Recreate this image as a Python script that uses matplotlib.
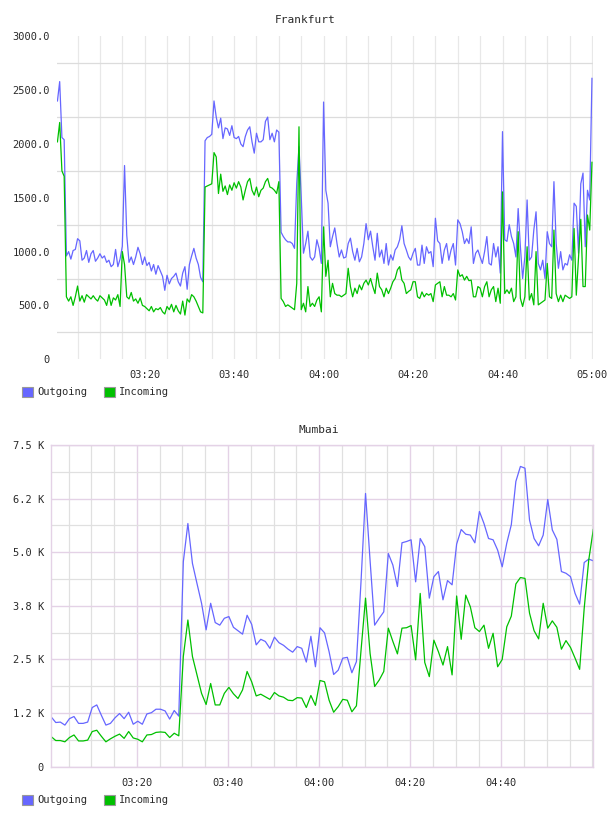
import numpy as np
import matplotlib
matplotlib.use("Agg")
import matplotlib.pyplot as plt
from matplotlib.patches import Patch
from matplotlib.ticker import MultipleLocator, FixedLocator, FuncFormatter

# time axis: minutes after 03:00
fra_start, fra_step = 0.5, 0.5
mum_start, mum_step = 1.2, 1.0

# Frankfurt (30 s samples)
fra_out = [
    2400, 2580, 2060, 2040, 960, 1000, 930, 1010, 1020, 1120,
    1100, 920, 940, 1010, 900, 980, 1010, 910, 940, 980,
    940, 960, 900, 920, 860, 880, 1020, 860, 930, 1050,
    1800, 1150, 900, 950, 880, 950, 1040, 980, 880, 950,
    870, 900, 820, 880, 790, 870, 820, 770, 640, 780,
    700, 750, 770, 800, 720, 680, 800, 860, 650, 880,
    960, 1030, 940, 880, 760, 720, 2030, 2060, 2070, 2090,
    2400, 2250, 2150, 2240, 2050, 2150, 2140, 2080, 2170, 2060,
    2050, 2070, 2000, 1975, 2070, 2130, 2160, 2020, 1915, 2100,
    2020, 2020, 2040, 2210, 2250, 2040, 2100, 2020, 2130, 2110,
    1180, 1140, 1110, 1090, 1090, 1075, 1030, 1635, 1975, 1510,
    985, 1075, 1190, 950, 920, 950, 1110, 1030, 890, 2390,
    1570, 1450, 1045, 1140, 1220, 1075, 950, 1015, 940, 950,
    1075, 1125, 1000, 920, 1030, 905, 950, 1075, 1260, 1110,
    1190, 1045, 920, 1170, 950, 1015, 890, 1075, 875, 970,
    920, 1015, 1045, 1110, 1240, 1075, 1015, 950, 920, 985,
    1030, 875, 875, 1060, 890, 1045, 985, 1000, 860, 1310,
    1100, 1075, 890, 1015, 1075, 920, 1015, 1075, 875, 1295,
    1260, 1185, 1075, 1120, 1075, 1230, 890, 985, 1015, 950,
    890, 1000, 1140, 890, 875, 1075, 950, 1045, 800, 2115,
    1110, 1095, 1250, 1140, 1075, 950, 1400, 1045, 750, 950,
    1480, 920, 950, 1200, 1370, 890, 830, 920, 750, 1185,
    1075, 1045, 1650, 1075, 845, 1000, 830, 890, 875, 970,
    920, 1450, 1420, 985, 1630, 1730, 1045, 1570, 1480, 2610,
]
fra_in = [
    2020, 2200, 1750, 1700, 580, 540, 580, 500, 580, 680,
    540, 590, 530, 600, 580, 560, 590, 560, 540, 590,
    570, 550, 500, 600, 500, 570, 550, 600, 490, 1000,
    880, 580, 560, 620, 540, 560, 520, 570, 500, 490,
    470, 450, 490, 440, 470, 460, 480, 440, 420, 490,
    460, 510, 440, 500, 450, 420, 540, 410, 560, 530,
    600, 580, 540, 490, 440, 430, 1600, 1610, 1620, 1630,
    1920, 1880, 1540, 1720, 1560, 1610, 1530, 1620, 1570, 1640,
    1590, 1650, 1600, 1480, 1570, 1650, 1680, 1570, 1525, 1600,
    1510, 1570, 1590, 1650, 1680, 1600, 1590, 1570, 1540, 1650,
    565, 535, 490, 505, 490, 475, 460, 705, 2160, 460,
    520, 440, 675, 490, 520, 490, 550, 580, 440, 1230,
    770, 920, 580, 705, 610, 595, 595, 580, 595, 610,
    845, 675, 580, 660, 610, 690, 645, 705, 735, 690,
    750, 675, 610, 800, 675, 645, 580, 660, 610, 660,
    720, 750, 830, 860, 735, 705, 610, 630, 645, 720,
    720, 580, 565, 625, 580, 610, 595, 610, 535, 690,
    705, 720, 580, 675, 595, 595, 580, 610, 550, 830,
    770, 785, 735, 770, 730, 735, 580, 580, 675, 660,
    580, 675, 720, 580, 645, 675, 535, 660, 520, 1555,
    610, 645, 610, 660, 535, 580, 1185, 565, 490, 580,
    1045, 550, 610, 505, 1000, 505, 520, 535, 550, 890,
    580, 565, 1200, 610, 535, 595, 535, 595, 580, 565,
    580, 1215, 595, 950, 1300, 675, 675, 1340, 1200, 1830,
]

# Mumbai (1 min samples)
mum_out = [
    1160, 1030, 1040, 970, 1120, 1170, 1010, 1010, 1040, 1380,
    1440, 1200, 970, 1010, 1140, 1240, 1120, 1270, 990, 1060,
    990, 1230, 1260, 1340, 1340, 1300, 1110, 1310, 1180, 4780,
    5670, 4740, 4270, 3810, 3190, 3810, 3360, 3300, 3460, 3500,
    3250, 3170, 3090, 3530, 3320, 2840, 2970, 2920, 2760, 3020,
    2890, 2830, 2740, 2670, 2800, 2760, 2440, 3040, 2330, 3240,
    3120, 2680, 2150, 2250, 2530, 2550, 2190, 2450, 4300, 6370,
    4800, 3300, 3460, 3610, 4970, 4700, 4200, 5220, 5250, 5290,
    4310, 5320, 5130, 3930, 4430, 4550, 3890, 4340, 4240, 5190,
    5530, 5420, 5400, 5220, 5950, 5670, 5320, 5290, 5050, 4660,
    5210, 5640, 6650, 7000, 6960, 5750, 5320, 5150, 5400, 6230,
    5520, 5300, 4550, 4510, 4430, 4040, 3790, 4760, 4840, 4800,
]
mum_in = [
    700, 610, 610, 580, 680, 740, 600, 600, 620, 820,
    850, 710, 580, 650, 710, 760, 660, 820, 670, 640,
    580, 740, 750, 800, 810, 800, 680, 780, 720, 2570,
    3420, 2570, 2140, 1710, 1450, 1940, 1440, 1440, 1710, 1850,
    1700, 1590, 1790, 2220, 1980, 1650, 1690, 1630, 1570, 1730,
    1650, 1620, 1550, 1540, 1610, 1600, 1380, 1660, 1430, 2010,
    1980, 1550, 1270, 1400, 1570, 1550, 1280, 1420, 2700, 3930,
    2640, 1870, 2020, 2220, 3230, 2920, 2630, 3230, 3240, 3290,
    2490, 4040, 2430, 2100, 2950, 2680, 2370, 2800, 2140, 3980,
    2970, 4000, 3730, 3240, 3150, 3300, 2760, 3110, 2330, 2500,
    3260, 3510, 4260, 4410, 4390, 3580, 3170, 2980, 3810, 3230,
    3400, 3250, 2740, 2940, 2780, 2530, 2270, 3690, 4820, 5530,
]

series_names = ["Outgoing", "Incoming"]
c_out, c_in = "#6666ff", "#00c000"
txt = "#2a2a2a"
FONT = "DejaVu Sans Mono"
FS = 7.5
LW = 0.9

fra_t = fra_start + fra_step * np.arange(len(fra_out))
mum_t = mum_start + mum_step * np.arange(len(mum_out))


def hhmm(v, pos=None):
    m = int(round(v))
    return "%02d:%02d" % (3 + m // 60, m % 60)


W, H = 608, 816
fig = plt.figure(figsize=(W / 100, H / 100), dpi=100)


def box(l, t, r, b):
    return [l / W, 1 - b / H, (r - l) / W, (b - t) / H]


# ---- Frankfurt ----
ax1 = fig.add_axes(box(57, 36.4, 593.3, 359.2))
ax1.plot(fra_t, fra_out, color=c_out, lw=LW)
ax1.plot(fra_t, fra_in, color=c_in, lw=LW)
ax1.set_xlim(0.4, 120.3)
ax1.set_ylim(0, 3000)
ax1.xaxis.set_major_locator(FixedLocator([20, 40, 60, 80, 100, 120]))
ax1.xaxis.set_minor_locator(MultipleLocator(5))
ax1.xaxis.set_major_formatter(FuncFormatter(hhmm))
ax1.yaxis.set_major_locator(MultipleLocator(500))
ax1.yaxis.set_minor_locator(FixedLocator([250, 750, 1250, 1750, 2250, 2750]))
ax1.yaxis.set_major_formatter(FuncFormatter(lambda v, p: "0" if v == 0 else "%.1f" % v))
ax1.grid(which="both", axis="x", color="#e8e8e8", lw=0.9)
ax1.grid(which="minor", axis="y", color="#dcdcdc", lw=0.9)
ax1.set_axisbelow(True)
for s in ax1.spines.values():
    s.set_visible(False)
ax1.tick_params(which="both", length=0, labelsize=FS, labelcolor=txt)
ax1.tick_params(axis="y", pad=5)
ax1.tick_params(axis="x", pad=8)

# ---- Mumbai ----
pink = "#e4d2e6"
ax2 = fig.add_axes(box(51, 445, 593.3, 766.7))
ax2.plot(mum_t, mum_out, color=c_out, lw=LW)
ax2.plot(mum_t, mum_in, color=c_in, lw=LW)
ax2.set_xlim(1.15, 120.2)
ax2.set_ylim(0, 7500)
ax2.xaxis.set_major_locator(FixedLocator([20, 40, 60, 80, 100]))
ax2.xaxis.set_minor_locator(MultipleLocator(5))
ax2.xaxis.set_major_formatter(FuncFormatter(hhmm))
ax2.yaxis.set_major_locator(MultipleLocator(1250))
ax2.yaxis.set_minor_locator(MultipleLocator(625))
ax2.yaxis.set_major_formatter(FuncFormatter(lambda v, p: "0" if v == 0 else "%.1f K" % (v / 1000)))
ax2.grid(which="minor", color="#e0e0e0", lw=0.9)
ax2.grid(which="major", color=pink, lw=1.0)
ax2.set_axisbelow(True)
for s in ax2.spines.values():
    s.set_color(pink)
    s.set_linewidth(1.0)
ax2.tick_params(which="both", length=0, labelsize=FS, labelcolor=txt)
ax2.tick_params(axis="y", pad=5)
ax2.tick_params(axis="x", pad=8)

for ax in (ax1, ax2):
    for lab in ax.get_xticklabels() + ax.get_yticklabels():
        lab.set_fontfamily(FONT)

# titles
fig.text(305 / W, 1 - 20 / H, "Frankfurt", ha="center", va="center",
         fontsize=FS + 0.5, family=FONT, color=txt)
fig.text(319 / W, 1 - 430 / H, "Mumbai", ha="center", va="center",
         fontsize=FS + 0.5, family=FONT, color=txt)

# legends
handles = [Patch(facecolor=c_out, edgecolor="#999999", lw=0.8),
           Patch(facecolor=c_in, edgecolor="#999999", lw=0.8)]
for yc in (392, 800):
    fig.legend(handles, series_names, loc="center left",
               bbox_to_anchor=(22 / W, 1 - yc / H), ncol=2, frameon=False,
               prop={"family": FONT, "size": FS}, handlelength=1.05,
               handleheight=1.15, handletextpad=0.4, columnspacing=1.6,
               borderpad=0, borderaxespad=0, labelcolor=txt)

fig.savefig("out.png", dpi=100, facecolor="white")
